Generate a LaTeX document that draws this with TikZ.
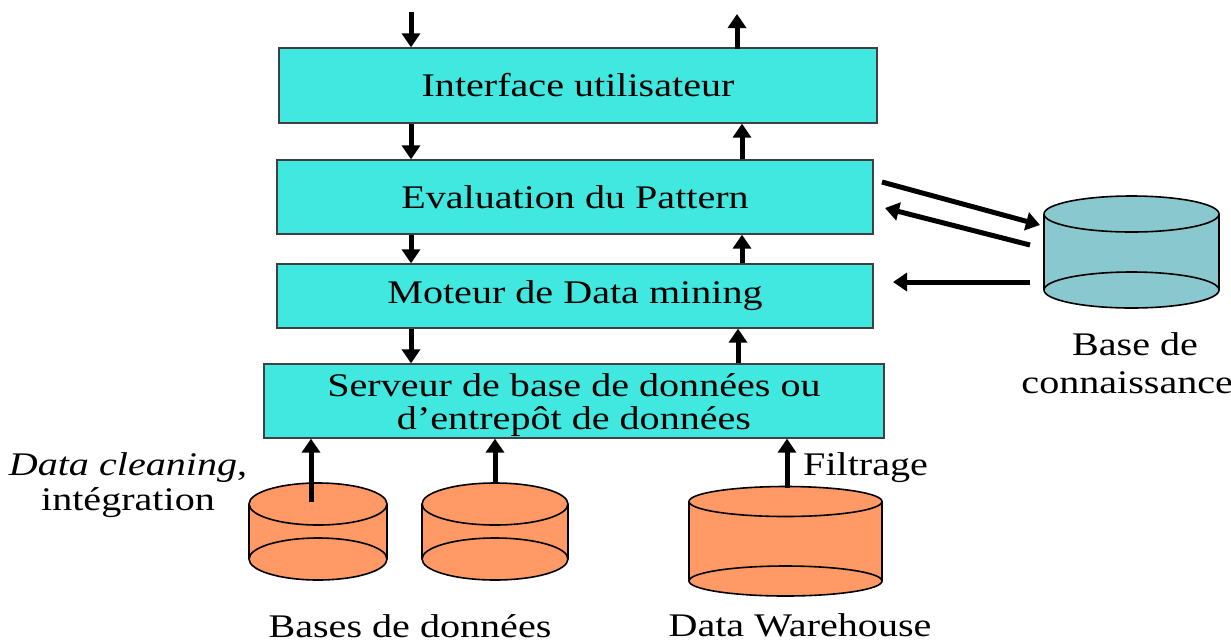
\documentclass[tikz,border=0pt]{standalone}
\usepackage{fontspec}
\setmainfont{Liberation Serif}[FakeStretch=1.215]
\usetikzlibrary{arrows.meta}

\definecolor{boxcyan}{RGB}{64,232,224}
\definecolor{dborange}{RGB}{255,153,102}
\definecolor{kbteal}{RGB}{136,200,206}

% database cylinder: name, centre x, top ellipse y, bottom ellipse y, rx, ry, fill colour
\newcommand\dbcyl[7]{%
  \fill[#7] (#2-#5,#3) rectangle (#2+#5,#4);
  \fill[#7] (#2,#3) ellipse [x radius=#5, y radius=#6];
  \fill[#7] (#2,#4) ellipse [x radius=#5, y radius=#6];
  \draw[cylline] (#2,#3) ellipse [x radius=#5, y radius=#6];
  \draw[cylline] (#2,#4) ellipse [x radius=#5, y radius=#6];
  \draw[cylline] (#2-#5,#3) -- (#2-#5,#4);
  \draw[cylline] (#2+#5,#3) -- (#2+#5,#4);
  \node[inner sep=0pt, minimum width=2*#5, minimum height=#4-#3+2*#6]
    (#1) at (#2,{(#3+#4)/2}) {};
  \coordinate (#1-top) at (#2,#3);
}

\begin{document}
\begin{tikzpicture}[x=1pt, y=-1pt,
  txt/.style={font=\fontsize{33}{35}\selectfont, inner sep=0pt, align=center},
  layer/.style={txt, draw=black!75, line width=1.3pt, fill=boxcyan},
  arr/.style={line width=5pt, -{Triangle[width=18pt,length=14pt]}},
  cylline/.style={draw=black, line width=1.6pt}]

  \fill[white] (0,0) rectangle (1231,641);
  \useasboundingbox (0,0) rectangle (1231,641);

  % layers of the mining system
  \node[layer, minimum width=598, minimum height=75] (ui)  at (578,85.5) {Interface utilisateur};
  \node[layer, minimum width=596, minimum height=74] (ev)  at (575,197)  {Evaluation du Pattern};
  \node[layer, minimum width=596, minimum height=64] (dm)  at (575,296)  {Moteur de Data mining};
  \node[layer, font=\fontsize{33}{33}\selectfont, minimum width=620, minimum height=74] (srv) at (574,401)
    {\rule{0pt}{32pt}Serveur de base de données ou\\d’entrepôt de données};

  % data sources and knowledge base
  \dbcyl{db1}{318}{504}{559}{69}{21}{dborange}
  \dbcyl{db2}{495}{504}{559}{73}{21}{dborange}
  \dbcyl{dw}{785.5}{501.5}{581}{96.5}{15}{dborange}
  \dbcyl{kb}{1131.5}{214}{290}{87.5}{18}{kbteal}

  % vertical flow columns
  \coordinate (lc) at (411,0);
  \coordinate (rc) at (742,0);
  \coordinate (rt) at (737,0);
  \coordinate (rb) at (738,0);
  \coordinate (inL)  at (411,12);
  \coordinate (outR) at (737,14);

  \draw[arr] (inL) -- (ui.north -| inL);
  \draw[arr] ([yshift=-2pt]ui.north -| rt) -- (outR);
  \draw[arr] (ui.south -| lc) -- (ev.north -| lc);
  \draw[arr] (ev.north -| rc) -- (ui.south -| rc);
  \draw[arr] (ev.south -| lc) -- (dm.north -| lc);
  \draw[arr] (dm.north -| rc) -- (ev.south -| rc);
  \draw[arr] (dm.south -| lc) -- (srv.north -| lc);
  \draw[arr] (srv.north -| rb) -- (dm.south -| rb);

  % sources feeding the server
  \coordinate (s1) at (311,502);
  \draw[arr] (s1) -- (srv.south -| s1);
  \draw[arr] (db2.north) -- (srv.south -| db2.north);
  \coordinate (s3) at (787,488);
  \draw[arr] (s3) -- (srv.south -| s3);

  % exchanges with the knowledge base
  \coordinate (k1a) at (882,182);
  \coordinate (k1b) at (1040,225);
  \coordinate (k2a) at (1030,245);
  \coordinate (k2b) at (885,208);
  \coordinate (k3a) at (1030,282);
  \coordinate (k3b) at (893,282);
  \draw[arr] (k1a) -- (k1b);
  \draw[arr] (k2a) -- (k2b);
  \draw[arr] (k3a) -- (k3b);

  % labels
  \node[txt] (lclean) at (128,484.8) {\textit{Data cleaning},\\intégration};
  \node[txt, anchor=base west] (lfilt) at (803,475) {Filtrage};
  \node[txt] (ldb) at (410,625.7) {Bases de données};
  \node[txt] (ldw) at (800,625.7) {Data Warehouse};
  \node[txt, font=\fontsize{33}{38}\selectfont] (lkb) at (1135,363.7) {Base de\\connaissances};
\end{tikzpicture}
\end{document}
